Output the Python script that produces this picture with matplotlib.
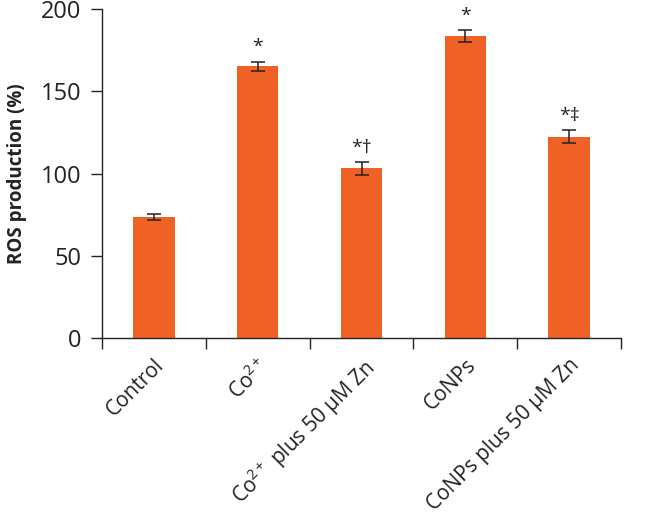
import numpy as np
import matplotlib
matplotlib.use('Agg')
import matplotlib.pyplot as plt

plt.rcParams['font.family'] = ['Open Sans', 'DejaVu Sans']
plt.rcParams['mathtext.fontset'] = 'custom'
plt.rcParams['mathtext.rm'] = 'Open Sans'
plt.rcParams['mathtext.it'] = 'Open Sans'

# Data
groups = ['Control', 'Co$^{2+}$', 'Co$^{2+}$ plus 50 \u00b5M Zn',
          'CoNPs', 'CoNPs plus 50 \u00b5M Zn']
ros = [73.5, 165.3, 103.2, 183.5, 122.4]
ros_err = [2.0, 2.8, 3.8, 3.6, 4.0]
marks = ['', '*', '*\u2020', '*', '*\u2021']

fig = plt.figure(figsize=(6.45, 5.16), dpi=100)
ax = fig.add_axes([0.158, 0.345, 0.805, 0.637])

x = np.arange(len(groups))
ax.bar(x, ros, width=0.4, color='#F06125', zorder=2)
ax.errorbar(x, ros, yerr=ros_err, fmt='none', ecolor='#222222',
            elinewidth=1.1, capsize=5, capthick=1.1, zorder=3)

for xi, v, e, m in zip(x, ros, ros_err, marks):
    if m:
        ax.annotate(m, (xi, v + e), xytext=(0, 4), textcoords='offset points',
                    ha='center', va='bottom', fontsize=14, color='#222222')

ax.set_xlim(-0.5, len(groups) - 0.5)
ax.set_ylim(0, 200)
ax.set_yticks([0, 50, 100, 150, 200])
ax.set_xticks(np.arange(-0.5, len(groups), 1.0))
ax.set_xticklabels([])
ax.set_xticks(x, minor=True)
ax.set_xticklabels(groups, minor=True, rotation=45, ha='right',
                   rotation_mode='anchor', fontsize=15, color='#222222')
ax.tick_params(axis='x', which='minor', length=0, pad=12)
ax.tick_params(axis='x', which='major', length=8, width=1, direction='out',
               colors='#222222')
ax.tick_params(axis='y', length=8, width=1, labelsize=17, pad=7,
               colors='#222222')

for s in ['top', 'right']:
    ax.spines[s].set_visible(False)
for s in ['left', 'bottom']:
    ax.spines[s].set_linewidth(1)
    ax.spines[s].set_color('#222222')

ax.set_ylabel('ROS production (%)', fontsize=13.5, fontweight='bold',
              color='#222222', labelpad=10)

fig.savefig('out.png', dpi=100)
